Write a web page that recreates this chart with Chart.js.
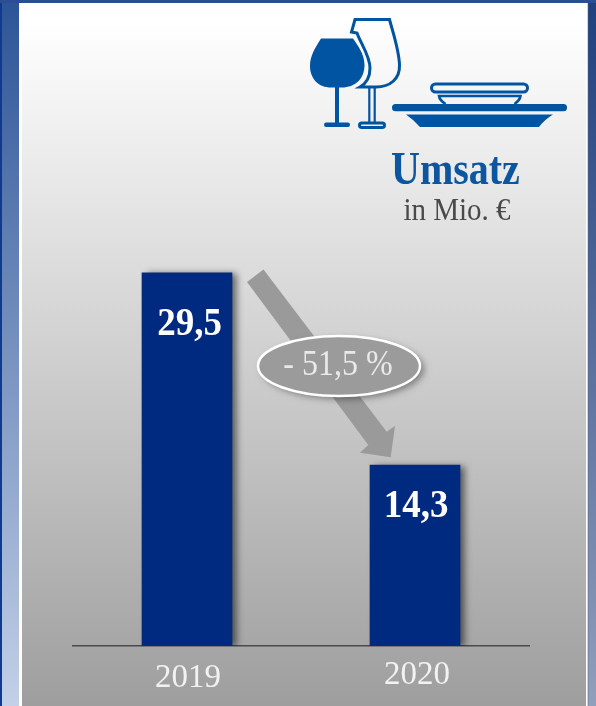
<!DOCTYPE html>
<html lang="de">
<head>
<meta charset="utf-8">
<title>Umsatz in Mio. €</title>
<script src="https://cdn.jsdelivr.net/npm/chart.js@4"></script>
<style>
html,body{margin:0;padding:0;background:#fff;overflow:hidden}
canvas{display:block}
</style>
</head>
<body>
<canvas id="c" width="596" height="706"></canvas>
<script>
const categories = ['2019', '2020'];
const revenue = [29.5, 14.3];
const valueLabels = ['29,5', '14,3'];
const titleText = 'Umsatz';
const unitText = 'in Mio. €';
const changeText = '- 51,5 %';

const SERIF = '"Liberation Serif","Times New Roman",serif';
const BLUE = '#0054a2';

function vGrad(ctx, y0, y1, c0, c1) {
  const g = ctx.createLinearGradient(0, y0, 0, y1);
  g.addColorStop(0, c0); g.addColorStop(1, c1);
  return g;
}

function tallText(ctx, text, x, y, sy) {
  ctx.save();
  ctx.translate(x, y);
  ctx.scale(1, sy);
  ctx.fillText(text, 0, 0);
  ctx.restore();
}

function drawBackground(ctx) {
  ctx.fillStyle = vGrad(ctx, 0, 706, '#2c5496', '#c3d0e8');
  ctx.fillRect(0, 0, 20, 706);
  ctx.fillStyle = '#0f3a8e';
  ctx.fillRect(0, 0, 2, 706);
  ctx.fillStyle = vGrad(ctx, 0, 706, '#1f3f7e', '#929fbc');
  ctx.fillRect(588, 0, 8, 706);
  ctx.fillStyle = '#2b4e92';
  ctx.fillRect(0, 0, 596, 3);
  ctx.fillStyle = '#ffffff';
  ctx.fillRect(19, 3, 569, 703);
  ctx.fillStyle = vGrad(ctx, 20, 706, '#ffffff', '#9e9e9e');
  ctx.fillRect(22, 3, 564, 703);
  ctx.fillStyle = 'rgba(90,100,130,.55)';
  ctx.fillRect(587.5, 3, 1, 703);
}

function drawIcon(ctx) {
  ctx.save();
  ctx.fillStyle = BLUE; ctx.strokeStyle = BLUE; ctx.lineJoin = 'miter';
  // filled glass
  ctx.beginPath();
  ctx.moveTo(321, 38.5); ctx.lineTo(353, 38.5);
  ctx.bezierCurveTo(358, 46, 364.5, 54, 364.5, 65);
  ctx.bezierCurveTo(364.5, 79, 355, 87.5, 342, 87.5);
  ctx.lineTo(331, 87.5);
  ctx.bezierCurveTo(319, 87.5, 310, 79, 310, 66);
  ctx.bezierCurveTo(310, 56, 315, 48, 321, 38.5);
  ctx.fill();
  ctx.fillRect(335, 87, 4, 37);
  ctx.beginPath(); ctx.roundRect(324, 122.5, 26, 4.5, 2.2); ctx.fill();
  // outline glass
  ctx.lineWidth = 3;
  ctx.beginPath();
  ctx.moveTo(355, 19.5); ctx.lineTo(389.5, 19.5);
  ctx.bezierCurveTo(393, 33, 399, 50, 399.5, 65);
  ctx.bezierCurveTo(400, 79, 390, 87, 376, 87);
  ctx.lineTo(360, 87);
  ctx.bezierCurveTo(367, 83, 370, 76, 370, 68);
  ctx.bezierCurveTo(370, 56, 360, 42, 357, 33);
  ctx.lineTo(351.5, 32);
  ctx.closePath();
  ctx.stroke();
  ctx.lineWidth = 2.2;
  ctx.beginPath();
  ctx.moveTo(369.3, 87); ctx.lineTo(369.3, 123);
  ctx.moveTo(374.7, 87); ctx.lineTo(374.7, 123);
  ctx.stroke();
  ctx.lineWidth = 3;
  ctx.beginPath(); ctx.roundRect(359.5, 123, 25, 4.5, 2.5); ctx.stroke();
  // plate
  ctx.beginPath(); ctx.roundRect(392, 104, 175, 7.2, 3.5); ctx.fill();
  ctx.beginPath();
  ctx.moveTo(406, 114.5); ctx.lineTo(553, 114.5);
  ctx.quadraticCurveTo(544, 120, 539, 127);
  ctx.lineTo(420, 127);
  ctx.quadraticCurveTo(414, 120, 406, 114.5);
  ctx.fill();
  // bowl
  ctx.lineWidth = 3;
  ctx.beginPath(); ctx.roundRect(431.5, 84, 96, 8, 4); ctx.stroke();
  ctx.lineWidth = 2.6;
  ctx.beginPath();
  ctx.moveTo(445.5, 104); ctx.quadraticCurveTo(439.5, 100, 439, 96);
  ctx.lineTo(520.5, 96);
  ctx.quadraticCurveTo(520, 100, 514.5, 104);
  ctx.stroke();
  ctx.restore();
}

function drawArrow(ctx) {
  ctx.save();
  ctx.fillStyle = '#9a9a9a';
  ctx.beginPath();
  ctx.moveTo(247, 282); ctx.lineTo(263.5, 269.5);
  ctx.lineTo(386.7, 431.7); ctx.lineTo(395, 426);
  ctx.lineTo(390.7, 457.3); ctx.lineTo(360, 452.7);
  ctx.lineTo(368.3, 445);
  ctx.closePath();
  ctx.fill();
  ctx.restore();
}

function drawBadge(ctx) {
  ctx.save();
  ctx.shadowColor = 'rgba(0,0,0,.4)'; ctx.shadowBlur = 7;
  ctx.shadowOffsetX = 4; ctx.shadowOffsetY = 3;
  ctx.fillStyle = '#9b9b9b';
  ctx.beginPath(); ctx.ellipse(339, 366, 81, 30, 0, 0, Math.PI * 2); ctx.fill();
  ctx.shadowColor = 'transparent';
  ctx.strokeStyle = '#ffffff'; ctx.lineWidth = 2.5;
  ctx.stroke();
  ctx.fillStyle = '#e9e9e9';
  ctx.font = '32px ' + SERIF;
  ctx.textAlign = 'center'; ctx.textBaseline = 'alphabetic';
  tallText(ctx, changeText, 338, 375, 1.1);
  ctx.restore();
}

const tickNudge = [[1, 2], [2, -1]];
const valueNudge = [[2.5, 62], [1, 52]];

const decor = {
  id: 'decor',
  beforeDraw(chart) {
    const ctx = chart.ctx;
    drawBackground(ctx);
    drawIcon(ctx);
    ctx.save();
    ctx.textAlign = 'left'; ctx.textBaseline = 'alphabetic';
    ctx.fillStyle = '#0c55a0';
    ctx.font = 'bold 40px ' + SERIF;
    tallText(ctx, titleText, 391, 184, 1.16);
    ctx.fillStyle = '#4a4a4a';
    ctx.font = '29px ' + SERIF;
    ctx.textAlign = 'center';
    tallText(ctx, unitText, 457, 220, 1.1);
    ctx.restore();
    drawArrow(ctx);
    if (!chart.$nudged) {
      chart.$nudged = true;
      const items = chart.scales.x.getLabelItems(chart.chartArea);
      items.forEach((it, i) => {
        it.options.translation = [it.options.translation[0] + tickNudge[i][0],
                                  it.options.translation[1] + tickNudge[i][1]];
      });
    }
  },
  beforeDatasetsDraw(chart) {
    const ctx = chart.ctx;
    ctx.save();
    ctx.shadowColor = 'rgba(0,0,0,.55)';
    ctx.shadowBlur = 7;
    ctx.shadowOffsetX = 5;
    ctx.shadowOffsetY = 1;
  },
  afterDatasetsDraw(chart) {
    const ctx = chart.ctx;
    ctx.restore();
    const bars = chart.getDatasetMeta(0).data;
    ctx.save();
    ctx.fillStyle = '#ffffff';
    ctx.font = 'bold 37px ' + SERIF;
    ctx.textAlign = 'center'; ctx.textBaseline = 'alphabetic';
    bars.forEach((b, i) => tallText(ctx, valueLabels[i], b.x + valueNudge[i][0], b.y + valueNudge[i][1], 1.08));
    ctx.restore();
    drawBadge(ctx);
  }
};

new Chart(document.getElementById('c'), {
  type: 'bar',
  data: {
    labels: categories,
    datasets: [{
      data: revenue,
      backgroundColor: '#002a7f',
      borderWidth: 0,
      barThickness: 90
    }]
  },
  options: {
    responsive: false,
    animation: false,
    events: [],
    layout: { padding: { left: 73, right: 67, top: 13.5, bottom: 0 } },
    plugins: { legend: { display: false }, tooltip: { enabled: false }, title: { display: false } },
    scales: {
      y: { display: false, min: 0, max: 50 },
      x: {
        afterFit(s) { s.height = 60; },
        grid: { display: false },
        border: { display: true, color: '#4a4a4a', width: 1.5 },
        ticks: {
          color: '#f2f2f2',
          padding: 3,
          maxRotation: 0,
          font: { family: SERIF, size: 33, weight: 'normal' }
        }
      }
    }
  },
  plugins: [decor]
});
</script>
</body>
</html>
